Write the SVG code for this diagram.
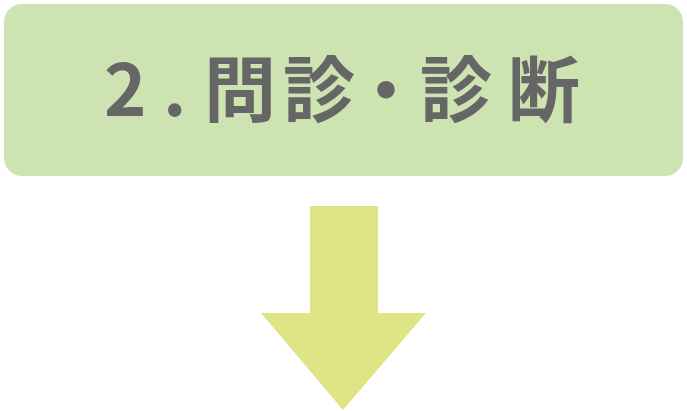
<svg xmlns="http://www.w3.org/2000/svg" width="687" height="411" viewBox="0 0 687 411">
<style>
.box{fill:#cde3b1}
.lbl{font-family:"Noto Sans CJK JP","Noto Sans",sans-serif;font-weight:700;font-size:72px;fill:#666666}
.arrow{fill:#dfe584}
</style>
<g id="node-step2">
<rect class="box" x="4" y="4" width="679" height="172" rx="18" ry="18"/>
<text class="lbl" y="116"><tspan x="104">2</tspan><tspan x="163">.</tspan><tspan x="204">問</tspan><tspan x="283">診</tspan><tspan x="352" font-size="68">・</tspan><tspan x="420">診</tspan><tspan x="508">断</tspan></text>
</g>
<g id="connectors">
<polygon class="arrow" points="310,206 378,206 378,313 426,313 343,410 261,313 310,313"/>
</g>
</svg>
